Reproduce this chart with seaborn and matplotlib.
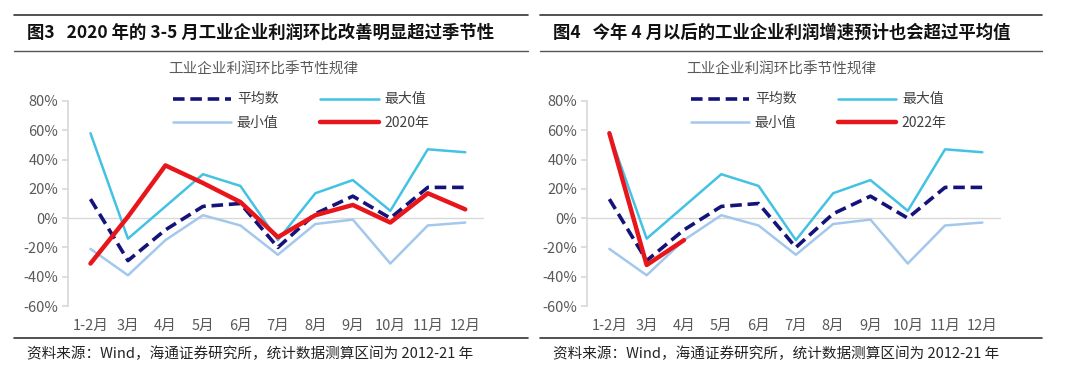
import numpy as np
import seaborn as sns
import matplotlib.pyplot as plt
from matplotlib.lines import Line2D

# data (% mom)
months = ['1-2月', '3月', '4月', '5月', '6月', '7月', '8月', '9月', '10月', '11月', '12月']
avg_vals = [13, -29, -8, 8, 10, -20, 3, 15, 0, 21, 21]
max_vals = [58, -14, 8, 30, 22, -15, 17, 26, 5, 47, 45]
min_vals = [-21, -39, -15, 2, -5, -25, -4, -1, -31, -5, -3]
y2020_vals = [-31, 1, 36, 24, 11, -13, 2, 9, -3, 17, 6]
y2022_vals = [58, -32, -15]

yticks = [-60, -40, -20, 0, 20, 40, 60, 80]

titles = ['图3   2020 年的 3-5 月工业企业利润环比改善明显超过季节性',
          '图4   今年 4 月以后的工业企业利润增速预计也会超过平均值']
chart_title = '工业企业利润环比季节性规律'
source = '资料来源：Wind，海通证券研究所，统计数据测算区间为 2012-21 年'

c_avg = '#14137A'
c_max = '#43C2E3'
c_min = '#A3C8EC'
c_red = '#E8161B'

sns.set_theme(style='white')
plt.rcParams['font.family'] = ['Noto Sans CJK SC', 'DejaVu Sans']

fig = plt.figure(figsize=(10.8, 3.76), dpi=100)


def panel(left, right, ax_left, ax_width, title, red_vals, red_label):
    # title band lines and source line
    fig.add_artist(Line2D([left, right], [1 - 15 / 376, 1 - 15 / 376], color='#333333', lw=1.2))
    fig.add_artist(Line2D([left, right], [1 - 51 / 376, 1 - 51 / 376], color='#555555', lw=1.0))
    fig.add_artist(Line2D([left, right], [1 - 338 / 376, 1 - 338 / 376], color='#333333', lw=1.2))
    fig.text(left + 13 / 1080, 1 - 33 / 376, title, fontsize=12.5, fontweight='bold',
             va='center', ha='left', color='#111111')
    fig.text(left + 13 / 1080, 1 - 354 / 376, source, fontsize=10.5,
             va='center', ha='left', color='#222222')

    ax = fig.add_axes([ax_left, 1 - 306 / 376, ax_width, 205 / 376])
    x = np.arange(len(months))
    sns.lineplot(x=x, y=avg_vals, ax=ax, color=c_avg, lw=2.6, label='平均数',
                 linestyle=(0, (3.2, 1.6)), zorder=4)
    sns.lineplot(x=x, y=min_vals, ax=ax, color=c_min, lw=1.8, label='最小值', zorder=2)
    sns.lineplot(x=x, y=max_vals, ax=ax, color=c_max, lw=1.8, label='最大值', zorder=3)
    sns.lineplot(x=x[:len(red_vals)], y=red_vals, ax=ax, color=c_red, lw=3.2,
                 label=red_label, zorder=5)

    ax.set_xlim(-0.6, 10.5)
    ax.set_ylim(-60, 80)
    ax.set_yticks(yticks)
    ax.set_yticklabels([f'{v}%' for v in yticks])
    ax.set_xticks(x)
    ax.set_xticklabels(months)
    ax.axhline(0, color='#D9D9D9', lw=1.0, zorder=1)
    for s in ['top', 'right', 'bottom']:
        ax.spines[s].set_visible(False)
    ax.spines['left'].set_color('#D9D9D9')
    ax.tick_params(axis='y', length=4, color='#D9D9D9', left=True, labelsize=10.5,
                   labelcolor='#595959', pad=3)
    ax.tick_params(axis='x', length=0, labelsize=10.5, labelcolor='#595959', pad=9)
    ax.set_xlabel('')
    ax.set_ylabel('')
    ax.grid(False)

    fig.text(ax_left + ax_width * 0.47, 1 - 70 / 376, chart_title, fontsize=10.5,
             ha='center', va='center', color='#595959')

    leg = ax.legend(loc='center', bbox_to_anchor=(0.56, 0.95), ncol=2, frameon=False,
                    fontsize=10, handlelength=4.2, columnspacing=3.0, labelspacing=0.7,
                    handletextpad=0.4)
    for t in leg.get_texts():
        t.set_color('#404040')
    return ax


panel(14 / 1080, 528 / 1080, 68 / 1080, 416 / 1080, titles[0], y2020_vals, '2020年')
panel(540 / 1080, 1042 / 1080, 587 / 1080, 414 / 1080, titles[1], y2022_vals, '2022年')

fig.savefig('out.png', dpi=100)
